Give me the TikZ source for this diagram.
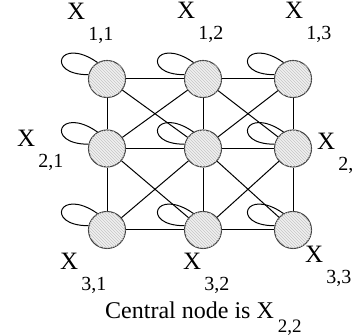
\documentclass[tikz,border=0pt]{standalone}
\usepackage{fontspec}
\setmainfont{Liberation Serif}
\usetikzlibrary{patterns}

% label X with a lowered index
\newcommand{\xlab}[1]{X\hspace{3pt}\raisebox{-21pt}{\fontsize{20}{20}\selectfont #1}}

\begin{document}
\begin{tikzpicture}[x=1pt, y=1pt,
    site/.style={circle, draw=black!75, line width=1.1pt, minimum size=37pt, inner sep=0pt,
                 fill=gray!12, postaction={pattern=north west lines, pattern color=gray!45}},
    link/.style={line width=1pt},
    lab/.style={anchor=base west, inner sep=0pt, font=\fontsize{25}{25}\selectfont}]
        \useasboundingbox (0,0) rectangle (353,336);

        % Sites of the grid
        \node[site] (n11) at (107,257) {};
        \node[site] (n12) at (203,257) {};
        \node[site] (n13) at (293,257) {};
        \node[site] (n21) at (107,187.5) {};
        \node[site] (n22) at (203,187.5) {};
        \node[site] (n23) at (293,187.5) {};
        \node[site] (n31) at (107,106) {};
        \node[site] (n32) at (203,106) {};
        \node[site] (n33) at (293,106) {};

        % Neighbour links
        \foreach \a/\b in {n11/n12, n12/n13, n21/n22, n22/n23, n31/n32, n32/n33,
                           n11/n21, n21/n31, n12/n22, n22/n32, n13/n23, n23/n33,
                           n11/n22, n12/n21, n12/n23, n13/n22,
                           n21/n32, n22/n31, n22/n33, n23/n32}
            \draw[link] (\a) -- (\b);

        % Self loops
        \foreach \n in {n11,n12,n13,n21,n22,n23,n31,n32,n33}
            \draw[link] (\n.120) .. controls +(145:47) and +(180:44) .. (\n.167);

        % Labels
        \node[lab] (l11) at (67,316) {\xlab{1,1}};
        \node[lab] (l12) at (177,317) {\xlab{1,2}};
        \node[lab] (l13) at (285,317) {\xlab{1,3}};
        \node[lab] (l21) at (17,189) {\xlab{2,1}};
        \node[lab] (l23) at (317,186) {\xlab{2,}};
        \node[lab] (l31) at (60,66) {\xlab{3,1}};
        \node[lab] (l32) at (183,66) {\xlab{3,2}};
        \node[lab] (l33) at (305,73) {\xlab{3,3}};

        % Caption
        \node[lab, font=\fontsize{24}{24}\selectfont] (cap) at (105,17) {Central node is X\hspace{4pt}\raisebox{-14pt}{\fontsize{19}{19}\selectfont 2,2}};
    \end{tikzpicture}
\end{document}
